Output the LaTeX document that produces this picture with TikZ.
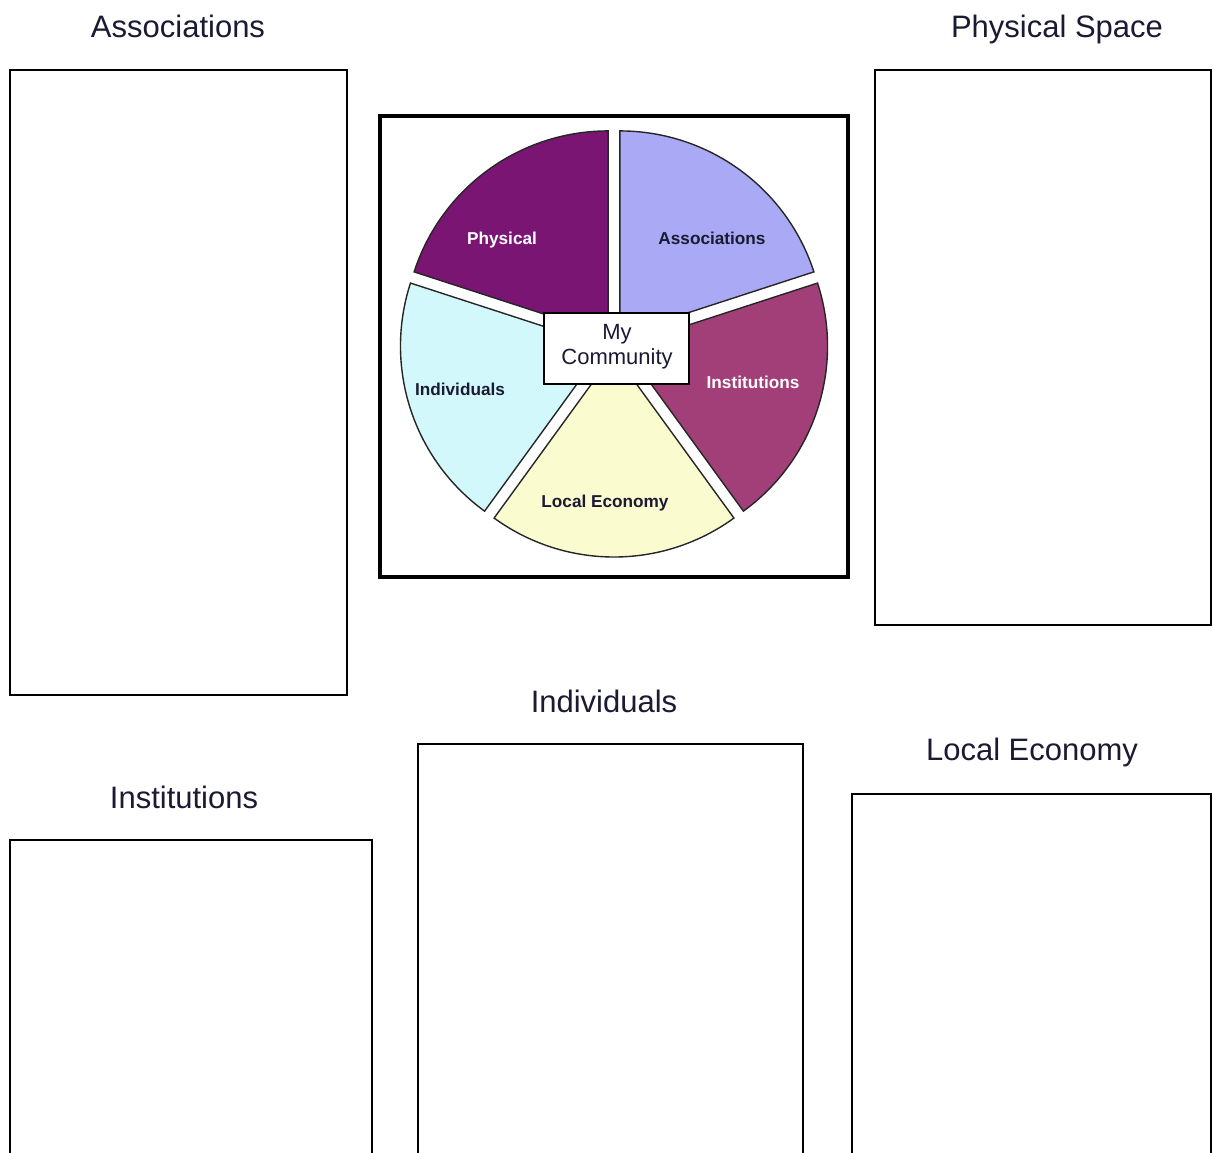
\documentclass[tikz,border=0pt]{standalone}
\usepackage{fontspec}
\setmainfont{Liberation Sans}
\usetikzlibrary{fit,calc}
\definecolor{physc}{HTML}{7A1573}
\definecolor{assocc}{HTML}{A9A9F5}
\definecolor{instc}{HTML}{A23F78}
\definecolor{econc}{HTML}{FBFBD0}
\definecolor{indc}{HTML}{D2F8FC}
\definecolor{darktxt}{HTML}{1A1A33}
\definecolor{slicebd}{HTML}{262626}
\begin{document}
\begin{tikzpicture}[x=0.5pt,y=-0.5pt,
  box/.style={draw=black,line width=1.2pt,inner sep=0pt,fill=none},
  framebox/.style={draw=black,line width=2pt,inner sep=0pt},
  titletext/.style={font=\fontsize{15.5}{18}\selectfont,text=darktxt,anchor=base,inner sep=0pt},
  slice/.style={draw=slicebd,line width=0.7pt},
  slicelabel/.style={font=\fontsize{8.6}{10}\selectfont\bfseries,anchor=base,inner sep=0pt},
  centerbox/.style={draw=black,line width=0.8pt,fill=white,inner sep=0pt},
  centertext/.style={font=\fontsize{11}{12.5}\selectfont,text=darktxt,align=center,inner sep=0pt,anchor=base}]
\clip (0,0) rectangle (1213,1152);
\fill[white] (0,0) rectangle (1213,1152);

% titles
\node[titletext] (tassoc) at (178,37) {Associations};
\node[titletext] (tphys) at (1057,37) {Physical Space};
\node[titletext] (tind) at (604,712) {Individuals};
\node[titletext] (tecon) at (1032,760) {Local Economy};
\node[titletext] (tinst) at (184,808) {Institutions};

% boxes
\coordinate (a1) at (10,70);   \coordinate (a2) at (347,695);
\coordinate (p1) at (875,70);  \coordinate (p2) at (1211,625);
\coordinate (i1) at (10,840);  \coordinate (i2) at (372,1175);
\coordinate (n1) at (418,744); \coordinate (n2) at (803,1175);
\coordinate (e1) at (852,794); \coordinate (e2) at (1211,1175);
\node[box,fit=(a1)(a2)] (bassoc) {};
\node[box,fit=(p1)(p2)] (bphys) {};
\node[box,fit=(i1)(i2)] (binst) {};
\node[box,fit=(n1)(n2)] (bind) {};
\node[box,fit=(e1)(e2)] (becon) {};

% pie frame
\coordinate (f1) at (380,116); \coordinate (f2) at (848,577);
\node[framebox,fit=(f1)(f2)] (pieframe) {};

% pie slices
\begin{scope}[shift={(614,343)},yscale=-1]
  \filldraw[slice,fill=physc] (126:10) -- ++(90:204) arc[start angle=90,end angle=162,radius=204] -- cycle;
  \filldraw[slice,fill=assocc] (54:10) -- ++(18:204) arc[start angle=18,end angle=90,radius=204] -- cycle;
  \filldraw[slice,fill=instc] (-18:10) -- ++(-54:204) arc[start angle=-54,end angle=18,radius=204] -- cycle;
  \filldraw[slice,fill=econc] (-90:10) -- ++(-126:204) arc[start angle=-126,end angle=-54,radius=204] -- cycle;
  \filldraw[slice,fill=indc] (198:10) -- ++(162:204) arc[start angle=162,end angle=234,radius=204] -- cycle;
\end{scope}

% slice labels
\node[slicelabel,text=white] (lphys) at (502,244) {Physical};
\node[slicelabel,text=darktxt] (lassoc) at (712,244) {Associations};
\node[slicelabel,text=white] (linst) at (753,388) {Institutions};
\node[slicelabel,text=darktxt] (lind) at (460,395) {Individuals};
\node[slicelabel,text=darktxt] (lecon) at (605,507) {Local Economy};

% center box
\coordinate (c1) at (544,313); \coordinate (c2) at (689,384);
\node[centerbox,fit=(c1)(c2)] (mcbox) {};
\node[centertext] (mytxt) at (617,339) {My};
\node[centertext] (commtxt) at (617,364) {Community};
\end{tikzpicture}
\end{document}
